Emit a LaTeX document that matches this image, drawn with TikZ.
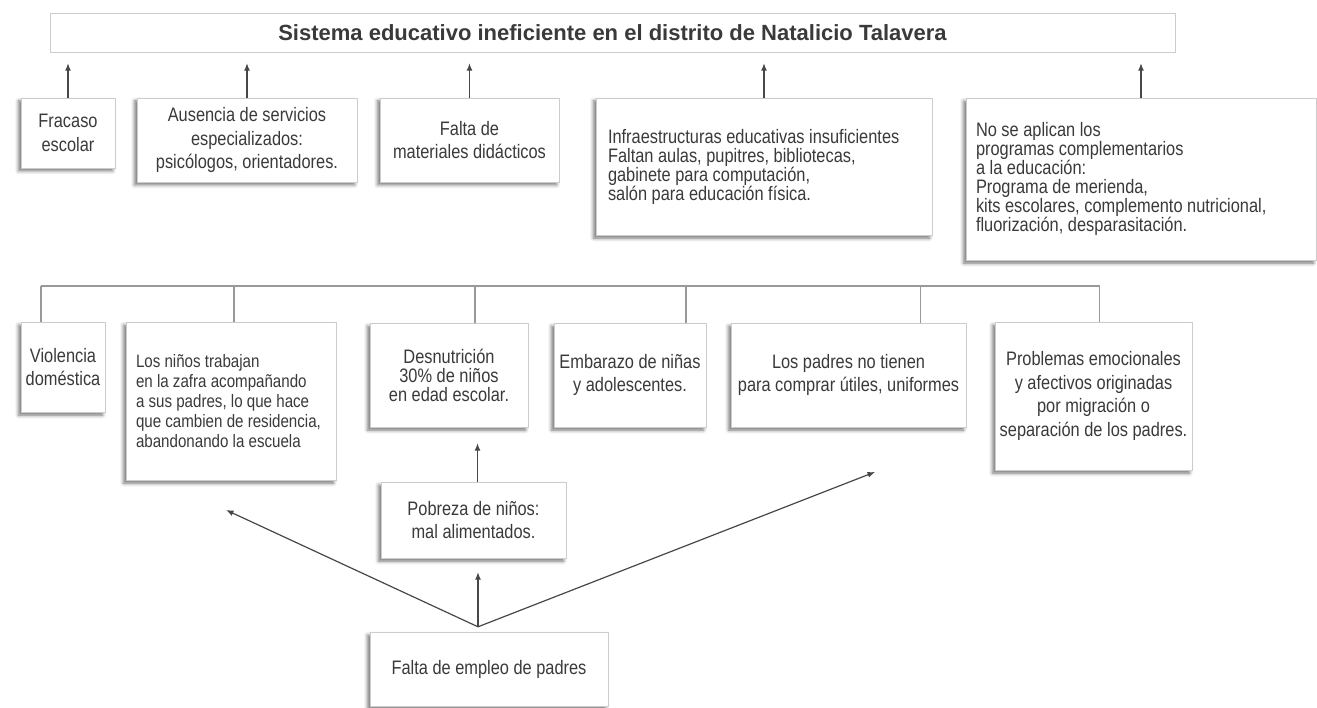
\documentclass[tikz,border=0pt]{standalone}
\usepackage{fontspec}
\setmainfont{Liberation Sans}
\newfontfamily\condfont[FakeStretch=0.84]{Liberation Sans}
\usetikzlibrary{arrows.meta, shadows.blur}

\definecolor{inkgray}{HTML}{3A3A3A}
\definecolor{framegray}{HTML}{CCCCCC}

\begin{document}
\hyphenpenalty=10000
\begin{tikzpicture}[
    x=1pt, y=-1pt,
    box/.style={draw=framegray, fill=white, align=center, inner sep=0pt,
                text=inkgray, font=\condfont\fontsize{19.5}{23.5}\selectfont,
                blur shadow={shadow xshift=-2.5pt, shadow yshift=-3pt,
                             shadow blur radius=3.5pt, shadow opacity=55}},
    tight/.style={font=\condfont\fontsize{19.5}{19}\selectfont},
    lbox/.style={box, tight, align=flush left},
    head/.style={draw=framegray, fill=white, inner sep=0pt, text=inkgray,
                 font=\bfseries\fontsize{22}{24}\selectfont},
    arr/.style={-{Latex[length=7.5pt, width=6pt]}, line width=1.2pt, draw=black!72},
    link/.style={line width=1.1pt, draw=black!40},
  ]
  \useasboundingbox (0,0) rectangle (1317,708);

  %% Problem (title bar)
  \node[head, minimum width=1125pt, minimum height=39pt] (title) at (612.5,32.5)
    {Sistema educativo ineficiente en el distrito de Natalicio Talavera};

  %% Effects (first row)
  \node[box, minimum width=94pt, minimum height=70pt] (fracaso) at (68,133) {Fracaso\\escolar};
  \node[box, minimum width=220pt, minimum height=84pt] (ausencia) at (247,140)
    {Ausencia de servicios\\especializados:\\psicólogos, orientadores.};
  \node[box, minimum width=179pt, minimum height=84pt] (materiales) at (469.5,140)
    {Falta de\\materiales didácticos};
  \node[lbox, inner xsep=12pt, text width=312pt, minimum height=137pt] (infra) at (764,166.5)
    {Infraestructuras educativas insuficientes\\Faltan aulas, pupitres, bibliotecas,\\gabinete para computación,\\salón para educación física.};
  \node[lbox, inner xsep=10pt, text width=330pt, minimum height=162pt] (programas) at (1141,179)
    {No se aplican los\\programas complementarios\\a la educación:\\Programa de merienda,\\kits escolares, complemento nutricional,\\fluorización, desparasitación.};

  \foreach \n in {fracaso, ausencia, materiales, infra, programas}
    \draw[arr, shorten >=11pt] (\n.north) -- (\n.north |- title.south);

  %% Causes (second row)
  \node[box, minimum width=84pt, minimum height=90pt] (violencia) at (63,367) {Violencia\\doméstica};
  \node[lbox, font=\condfont\fontsize{18}{20}\selectfont, inner xsep=10pt, text width=190pt,
        minimum height=158pt] (trabajo) at (231,401)
    {Los niños trabajan\\en la zafra acompañando\\a sus padres, lo que hace\\que cambien de residencia,\\abandonando la escuela};
  \node[box, tight, minimum width=158pt, minimum height=104pt] (desnut) at (449,375)
    {Desnutrición\\30\% de niños\\en edad escolar.};
  \node[box, minimum width=152pt, minimum height=104pt] (embarazo) at (630,375)
    {Embarazo de niñas\\y adolescentes.};
  \node[box, minimum width=235pt, minimum height=104pt] (utiles) at (848.5,375)
    {Los padres no tienen\\para comprar útiles, uniformes};
  \node[box, minimum width=197pt, minimum height=148pt] (emocion) at (1093.5,396)
    {Problemas emocionales\\y afectivos originadas\\por migración o\\separación de los padres.};

  \coordinate (bus) at (0,286);
  \foreach \n/\dx in {violencia/-22, trabajo/3, desnut/26, embarazo/56, utiles/72, emocion/6}
    \draw[link] ([xshift=\dx]\n.north) coordinate (drop-\n) -- (drop-\n |- bus);
  \draw[link] (drop-violencia |- bus) -- (drop-emocion |- bus);

  %% Root causes
  \node[box, minimum width=185pt, minimum height=76pt] (pobreza) at (473.5,520)
    {Pobreza de niños:\\mal alimentados.};
  \node[box, minimum width=238pt, minimum height=74pt] (empleo) at (489,669)
    {Falta de empleo de padres};

  \draw[arr, shorten >=16pt] ([xshift=4]pobreza.north) coordinate (p-up) -- (p-up |- desnut.south);

  \path ([xshift=-11, yshift=5]empleo.north) coordinate (fork);
  \coordinate (tip-trabajo) at (226,510);
  \coordinate (tip-utiles) at (875,472);
  \draw[arr, shorten >=14pt] (fork) -- (fork |- pobreza.south);
  \draw[arr] (fork) -- (tip-trabajo);
  \draw[arr] (fork) -- (tip-utiles);
\end{tikzpicture}
\end{document}
